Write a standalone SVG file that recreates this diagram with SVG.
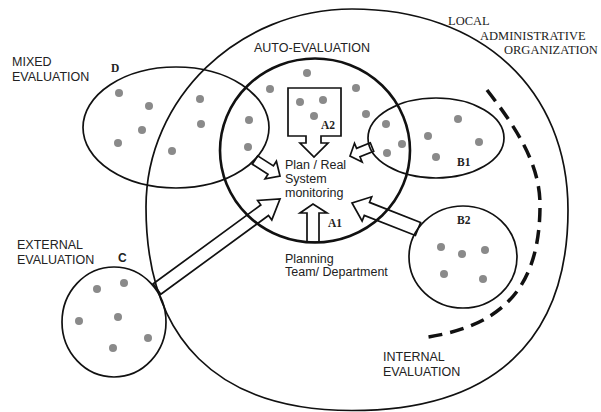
<svg xmlns="http://www.w3.org/2000/svg" width="601" height="412" viewBox="0 0 601 412">
<style>
.ln{fill:none;stroke:#111;stroke-width:1.7}
.thick{fill:none;stroke:#111;stroke-width:2.6}
.arr{fill:none;stroke:#111;stroke-width:1.7;stroke-linejoin:miter}
.dot{fill:#8a8a8a}
.sans{font-family:"Liberation Sans",Arial,sans-serif;font-size:12.5px;fill:#222}
.ser{font-family:"Liberation Serif","Times New Roman",serif;font-size:12.5px;fill:#222}
.tag{font-family:"Liberation Serif","Times New Roman",serif;font-size:11.5px;font-weight:bold;fill:#222}
.tags{font-family:"Liberation Sans",Arial,sans-serif;font-size:12px;font-weight:bold;fill:#222}
</style>
<rect width="601" height="412" fill="#fff"/>
<g id="local-organization">
<path class="ln" d="M352,9 C481.6,9 568,89.4 568,210 C568,341 492.4,410.5 352,410.5 C218.1,410.5 146,340.3 146,207 C146,98.1 238.7,9 352,9 Z"/>
<text class="ser" x="448" y="25">LOCAL</text>
<text class="ser" x="480" y="40">ADMINISTRATIVE</text>
<text class="ser" x="504" y="54">ORGANIZATION</text>
</g>
<g id="internal-evaluation">
<path d="M487,90 C518,130 540,165 540,205 C540,285 505,325 428,337" fill="none" stroke="#111" stroke-width="3.5" stroke-dasharray="14 8"/>
<text class="sans" x="383" y="361">INTERNAL</text>
<text class="sans" x="383" y="376">EVALUATION</text>
</g>
<g id="auto-evaluation">
<ellipse class="thick" cx="315" cy="150.5" rx="95" ry="92"/>
<text class="sans" x="254" y="52">AUTO-EVALUATION</text>
<circle class="dot" cx="270" cy="89" r="4"/>
<circle class="dot" cx="307" cy="73" r="4"/>
<circle class="dot" cx="356" cy="88" r="4"/>
<circle class="dot" cx="366" cy="114" r="4"/>
<text class="sans" x="285" y="169">Plan / Real</text>
<text class="sans" x="285" y="183">System</text>
<text class="sans" x="285" y="197">monitoring</text>
</g>
<g id="node-A2">
<path class="arr" d="M288,88 H341 V136 H321 V143 H328 L314,157 L300,143 H306 V136 H288 Z"/>
<circle class="dot" cx="300" cy="102" r="4"/>
<circle class="dot" cx="323" cy="100" r="4"/>
<circle class="dot" cx="314" cy="116" r="4"/>
<text class="tag" x="321" y="129">A2</text>
</g>
<g id="node-A1">
<text class="tag" x="328" y="227">A1</text>
<text class="sans" x="285" y="263">Planning</text>
<text class="sans" x="285" y="276">Team/ Department</text>
</g>
<g id="node-D">
<ellipse class="ln" cx="176" cy="127.5" rx="93" ry="60.5"/>
<text class="tag" x="111" y="72">D</text>
<text class="sans" x="12" y="66">MIXED</text>
<text class="sans" x="12" y="81">EVALUATION</text>
<circle class="dot" cx="119" cy="93" r="4"/>
<circle class="dot" cx="149" cy="106" r="4"/>
<circle class="dot" cx="142" cy="130" r="4"/>
<circle class="dot" cx="118" cy="143" r="4"/>
<circle class="dot" cx="172" cy="151" r="4"/>
<circle class="dot" cx="200" cy="99" r="4"/>
<circle class="dot" cx="201" cy="124" r="4"/>
<circle class="dot" cx="249" cy="120" r="4"/>
<circle class="dot" cx="248" cy="147" r="4"/>
</g>
<g id="node-B1">
<ellipse class="ln" cx="436" cy="138" rx="68" ry="40"/>
<text class="tag" x="457" y="166">B1</text>
<circle class="dot" cx="386" cy="124" r="4"/>
<circle class="dot" cx="402" cy="144" r="4"/>
<circle class="dot" cx="387" cy="153" r="4"/>
<circle class="dot" cx="428" cy="136" r="4"/>
<circle class="dot" cx="458" cy="119" r="4"/>
<circle class="dot" cx="479" cy="142" r="4"/>
<circle class="dot" cx="436" cy="157" r="4"/>
</g>
<g id="node-B2">
<ellipse class="ln" cx="463" cy="257" rx="54" ry="51"/>
<text class="tag" x="457" y="224">B2</text>
<circle class="dot" cx="441" cy="247" r="4"/>
<circle class="dot" cx="462" cy="254" r="4"/>
<circle class="dot" cx="485" cy="250" r="4"/>
<circle class="dot" cx="444" cy="274" r="4"/>
<circle class="dot" cx="483" cy="279" r="4"/>
</g>
<g id="node-C">
<ellipse class="ln" cx="114" cy="322" rx="52" ry="55"/>
<text class="tags" x="118" y="262">C</text>
<text class="sans" x="17" y="249">EXTERNAL</text>
<text class="sans" x="17" y="264">EVALUATION</text>
<circle class="dot" cx="97" cy="289" r="4"/>
<circle class="dot" cx="124" cy="283" r="4"/>
<circle class="dot" cx="79" cy="321" r="4"/>
<circle class="dot" cx="118" cy="317" r="4"/>
<circle class="dot" cx="148" cy="338" r="4"/>
<circle class="dot" cx="113" cy="348" r="4"/>
</g>
<g id="connectors">
<polygon class="arr" points="307,242 307,213 300,213 313,204 327,213 319,213 319,242"/>
<polygon class="arr" points="252.3,164.2 268,174.3 265.1,178.9 280,176 276.4,161.2 273.4,165.9 257.7,155.8"/>
<polygon class="arr" points="370.3,142.8 356.6,148.4 354.5,143.3 350,156 362.1,161.9 360,156.8 373.7,151.2"/>
<polygon class="arr" points="160.8,294.3 268.5,215.5 271.8,219.9 280,199 257.6,200.5 260.8,205 153.2,283.8"/>
<polygon class="arr" points="420.6,222.5 369.5,202.4 371.7,196.8 352,203 362.1,221 364.3,215.4 415.4,235.5"/>
</g>
</svg>
